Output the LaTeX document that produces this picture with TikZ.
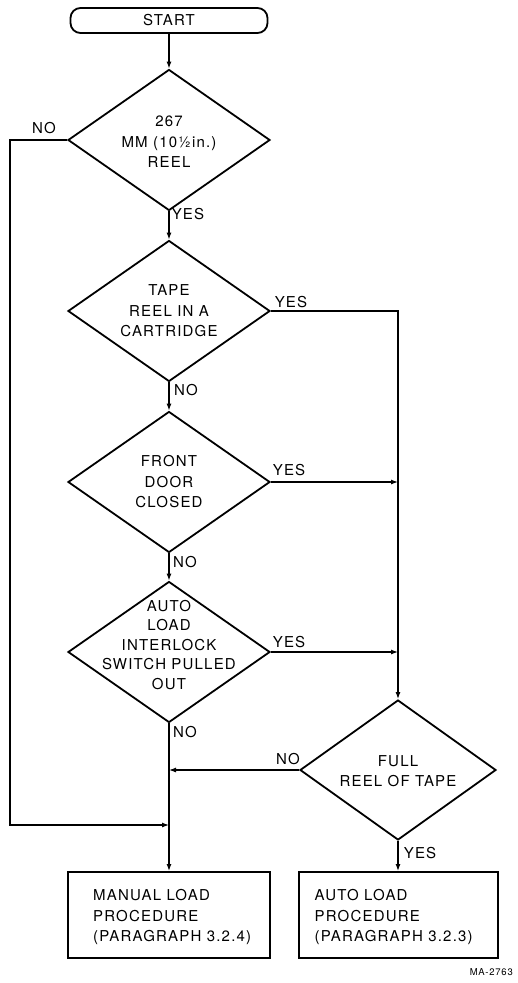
\documentclass[tikz,border=0pt]{standalone}
\usepackage{fontspec}
\setmainfont{TeX Gyre Heros}[LetterSpace=8]
\usetikzlibrary{shapes.geometric,arrows.meta}
\begin{document}
\begin{tikzpicture}[x=1pt,y=-1pt,
  dia/.style={diamond, draw, line width=1.8pt, minimum width=202pt, minimum height=141pt, inner sep=0pt},
  txt/.style={align=center, font=\fontsize{15}{20.5}\selectfont, inner sep=0pt},
  lbl/.style={font=\fontsize{15}{18}\selectfont, inner sep=0pt},
  box/.style={draw, line width=2pt, minimum width=202pt, minimum height=86pt, inner sep=0pt},
  arr/.style={line width=1.2pt, -{Latex[length=7pt,width=5pt]}}]
\useasboundingbox[fill=white] (0,0) rectangle (518,983);
\node[draw, line width=1.8pt, rounded corners=10pt, minimum width=197pt, minimum height=25pt, inner sep=0pt, font=\fontsize{15}{18}\selectfont] (start) at (169,20.5) {START};
\node[dia] (d1) at (169,140) {};
\node[txt] (t1) at (169,142) {267\\MM (10½in.)\\REEL};
\node[dia] (d2) at (169,311) {};
\node[txt] (t2) at (169,311) {TAPE\\REEL IN A\\CARTRIDGE};
\node[dia] (d3) at (169,482) {};
\node[txt] (t3) at (169,482) {FRONT\\DOOR\\CLOSED};
\node[dia] (d4) at (169,652) {};
\node[txt, font=\fontsize{15}{19.5}\selectfont] (t4) at (169,645) {AUTO\\LOAD\\INTERLOCK\\SWITCH PULLED\\OUT};
\node[dia, minimum width=196pt, minimum height=140pt] (d5) at (398,770) {};
\node[txt] (t5) at (398,771) {FULL\\REEL OF TAPE};
\node[box] (man) at (169,915) {};
\node[box, minimum width=199pt] (auto) at (398,915) {};
\node[txt, align=left, anchor=west] (mant) at ([xshift=26pt,yshift=-2pt]man.west) {MANUAL LOAD\\PROCEDURE\\(PARAGRAPH 3.2.4)};
\node[txt, align=left, anchor=west] (autot) at ([xshift=17pt,yshift=-2pt]auto.west) {AUTO LOAD\\PROCEDURE\\(PARAGRAPH 3.2.3)};
% connectors
\draw[arr] (start.south) -- (d1.north);
\draw[arr] (d1.south) -- (d2.north);
\draw[arr] (d2.south) -- (d3.north);
\draw[arr] (d3.south) -- (d4.north);
\draw[arr] (d4.south) -- (man.north);
\draw[arr] (d2.east) -| (d5.north);
\draw[arr] (d3.east) -- (d3.east -| d5.north);
\draw[arr] (d4.east) -- (d4.east -| d5.north);
\draw[arr] (d5.west) -- (d5.west -| man.north);
\draw[arr] (d5.south) -- (auto.north);
\coordinate (lc) at (10,825);
\draw[arr] (d1.west) -| (lc) -- (lc -| man.north);
% labels
\node[lbl] (n1) at (44,128) {NO};
\node[lbl] (y1) at (188,214) {YES};
\node[lbl] (y2) at (291,302) {YES};
\node[lbl] (n2) at (186,390) {NO};
\node[lbl] (y3) at (289,470) {YES};
\node[lbl] (n3) at (185,562) {NO};
\node[lbl] (y4) at (289,642) {YES};
\node[lbl] (n4) at (185,732) {NO};
\node[lbl] (n5) at (288,759) {NO};
\node[lbl] (y5) at (420,853) {YES};
\node[font=\fontsize{9.5}{11}\selectfont, anchor=east, inner sep=0pt] (ma) at (513,972) {MA-2763};
\end{tikzpicture}
\end{document}
